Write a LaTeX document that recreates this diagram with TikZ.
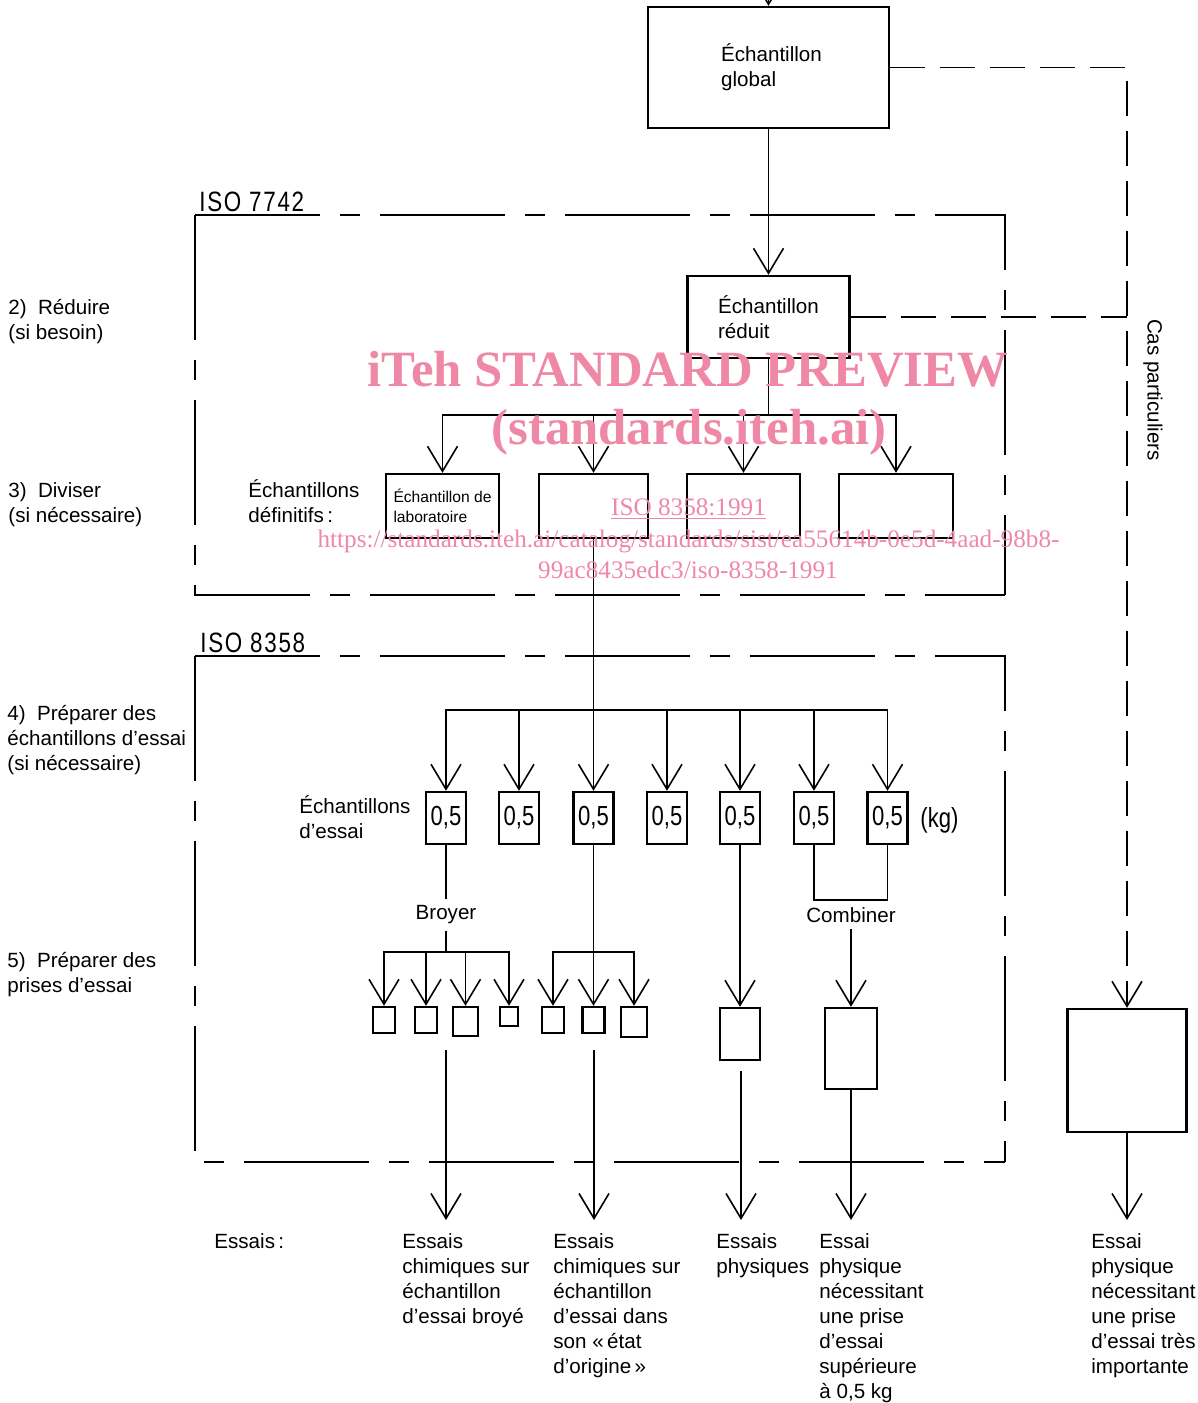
\documentclass[tikz,border=0pt]{standalone}
\usepackage{fontspec}
\setmainfont{Liberation Sans}
\newfontfamily\isofont[FakeStretch=0.8,LetterSpace=6]{Liberation Sans}
\newfontfamily\numfont[FakeStretch=0.8]{Liberation Sans}
\newfontfamily\wmfont{Liberation Serif}
\usetikzlibrary{arrows.meta}
\definecolor{wmpink}{RGB}{238,136,166}
\begin{document}
\begin{tikzpicture}[
  x=0.5pt, y=-0.5pt,
  conn/.style={line width=0.8pt},
  arr/.style={line width=0.8pt, -{Straight Barb[length=12.5pt,width=15pt]}},
  boxa/.style={draw, line width=1.2pt, inner sep=0pt},
  bx/.style 2 args={boxa, minimum width=#1, minimum height=#2},
  txt/.style={inner sep=0pt, align=left, font=\fontsize{10.3pt}{12.5pt}\selectfont},
  smalltxt/.style={inner sep=0pt, align=left, font=\fontsize{7.8pt}{10pt}\selectfont},
  iso/.style={inner sep=0pt, font=\isofont\fontsize{14pt}{17pt}\selectfont},
  num/.style={font=\numfont\fontsize{13.8pt}{16pt}\selectfont},
  isodash/.style={line width=0.9pt, dash pattern=on 62.5pt off 10pt on 10pt off 10pt},
  casdash/.style={line width=0.9pt, dash pattern=on 17.5pt off 7.5pt},
  wmbig/.style={text=wmpink, inner sep=0pt, font=\wmfont\bfseries\fontsize{25.4pt}{30pt}\selectfont},
  wmsmall/.style={text=wmpink, inner sep=0pt, font=\wmfont\fontsize{12.6pt}{15pt}\selectfont},
]
\useasboundingbox (0,0) rectangle (1198,1403);
\clip (0,0) rectangle (1198,1403);

% ---------- top: global sample
\node[bx={120.5pt}{60.5pt}, txt] (g) at (768.5,67.5) {\hspace*{3pt}Échantillon\\\hspace*{3pt}global};
\coordinate (top) at (768.5,-40);
\draw[arr] (top) -- (g.north);

% ---------- ISO 7742 frame
\draw[isodash] (195,215) -- (1005,215) -- (1005,595);
\draw[isodash] (195,215) -- (195,595) -- (1005,595);
\node[iso, anchor=base west] (iso1) at (199,211) {ISO 7742};

% reduced sample
\node[bx={81pt}{41pt}, txt] (r) at (768.5,317) {Échantillon\\réduit};
\draw[arr] (g.south) -- (r.north);

% ---------- special cases
\coordinate (c1) at (1127,67.5);
\coordinate (c2) at (1127,317);
\coordinate (c3) at (1127,982);
\draw[casdash] (g.east) -- (c1) -- (c3);
\draw[casdash] (r.east) -- (c2);
\node[txt, rotate=-90] (cas) at (1153,390) {Cas particuliers};

% ---------- definitive samples
\node[bx={56.5pt}{32pt}, smalltxt] (d1) at (442.5,506) {Échantillon de\\laboratoire};
\node[bx={54.5pt}{32pt}] (d2) at (593.5,506) {};
\node[bx={56.5pt}{32pt}] (d3) at (743.5,506) {};
\node[bx={57pt}{32pt}] (d4) at (896,506) {};
\coordinate (jd) at (768.5,415);
\draw[conn] (r.south) -- (jd);
\foreach \n in {d1,d2,d3,d4} \draw[arr] (jd) -| (\n);

\node[txt, anchor=base west] (edef) at (248,522) {Échantillons\\définitifs\,:};

% ---------- left step labels
\node[txt, anchor=base west] (l2) at (8,339) {2)\hspace{0.55em}Réduire\\(si besoin)};
\node[txt, anchor=base west] (l3) at (8,522) {3)\hspace{0.55em}Diviser\\(si nécessaire)};
\node[txt, anchor=base west] (l4) at (7,770) {4)\hspace{0.55em}Préparer des\\échantillons d’essai\\(si nécessaire)};
\node[txt, anchor=base west] (l5) at (7,992) {5)\hspace{0.55em}Préparer des\\prises d’essai};

% ---------- ISO 8358 frame
\draw[isodash] (195,656) -- (1005,656) -- (1005,1162);
\draw[isodash] (195,656) -- (195,1162) -- (1005,1162);
\node[iso, anchor=base west] (iso2) at (200,652) {ISO 8358};

% test samples 0,5 kg
\coordinate (jt) at (593.5,710);
\draw[conn] (d2.south) -- (jt);
\foreach \i/\xx in {1/446,2/519,3/593.5,4/667,5/740,6/814,7/887.5}
  \node[bx={20pt}{26pt}, num] (t\i) at (\xx,818) {0,5};
\foreach \i in {1,...,7} \draw[arr] (jt) -| (t\i);
\node[num, inner sep=0pt, anchor=west] (kg) at (920,820) {(kg)};
\node[txt, anchor=base west] (eess) at (299,838) {Échantillons\\d’essai};

% grind -> 4 test portions
\node[txt, inner sep=3pt] (broyer) at (446,915) {Broyer};
\draw[conn] (t1) -- (broyer);
\coordinate (jb) at (446,952);
\draw[conn] (broyer) -- (jb);
\node[bx={11pt}{13pt}] (s1) at (384,1020) {};
\node[bx={11pt}{13pt}] (s2) at (426,1020) {};
\node[bx={12.5pt}{14.5pt}] (s3) at (465.5,1021.5) {};
\node[bx={9pt}{9.5pt}] (s4) at (509,1016.5) {};
\foreach \n in {s1,s2,s3,s4} \draw[arr] (jb) -| (\n);

% original state -> 3 test portions
\coordinate (jc) at (593.5,952);
\draw[conn] (t3) -- (jc);
\node[bx={11pt}{13pt}] (s5) at (553,1020) {};
\node[bx={11pt}{13pt}] (s6) at (593.5,1020) {};
\node[bx={13pt}{15pt}] (s7) at (634,1022) {};
\foreach \n in {s5,s6,s7} \draw[arr] (jc) -| (\n);

% physical tests
\node[bx={20pt}{26pt}] (pb) at (740,1034) {};
\draw[arr] (t5) -- (pb);

% combine
\coordinate (jk) at (851,900);
\draw[conn] (t6.south) |- (jk);
\draw[conn] (t7.south) |- (jk);
\node[txt, inner sep=3pt] (comb) at (851,915) {Combiner};
\draw[conn] (jk) -- (comb.north);
\node[bx={26pt}{40.5pt}] (cb) at (851,1048.5) {};
\draw[arr] (comb) -- (cb);

% large sample for special cases
\node[bx={59.5pt}{61.5pt}] (big) at (1127,1070.5) {};
\draw[arr] (c3) -- (big.north);

% ---------- arrows to the tests
\coordinate (o1) at (446,1050);  \coordinate (a1) at (446,1220);
\coordinate (o2) at (594,1050);  \coordinate (a2) at (594,1220);
\coordinate (o3) at (741,1071);  \coordinate (a3) at (741,1220);
\coordinate (a4) at (851,1220);
\coordinate (a5) at (1127,1220);
\draw[arr] (o1) -- (a1);
\draw[arr] (o2) -- (a2);
\draw[arr] (o3) -- (a3);
\draw[arr] (cb) -- (a4);
\draw[arr] (big) -- (a5);

\node[txt, anchor=base west] (ess) at (214,1248) {Essais\,:};
\node[txt, anchor=base west] (ra) at (402,1323) {Essais\\chimiques sur\\échantillon\\d’essai broyé};
\node[txt, anchor=base west] (rb) at (553,1373) {Essais\\chimiques sur\\échantillon\\d’essai dans\\son «\,état\\d’origine\,»};
\node[txt, anchor=base west] (rc) at (716,1273) {Essais\\physiques};
\node[txt, anchor=base west] (rd) at (819,1398) {Essai\\physique\\nécessitant\\une prise\\d’essai\\supérieure\\à 0,5 kg};
\node[txt, anchor=base west] (re) at (1091,1373) {Essai\\physique\\nécessitant\\une prise\\d’essai très\\importante};

% ---------- watermark
\node[wmbig, anchor=base] (wm1) at (688,386) {iTeh STANDARD PREVIEW};
\node[wmbig, anchor=base] (wm2) at (689,444) {(standards.iteh.ai)};
\node[wmsmall, anchor=base] (wm3) at (688.5,515) {\underline{ISO 8358:1991}};
\node[wmsmall, anchor=base] (wm4) at (688.5,547) {https://standards.iteh.ai/catalog/standards/sist/ea55614b-0e5d-4aad-98b8-};
\node[wmsmall, anchor=base] (wm5) at (688,578) {99ac8435edc3/iso-8358-1991};
\end{tikzpicture}
\end{document}
